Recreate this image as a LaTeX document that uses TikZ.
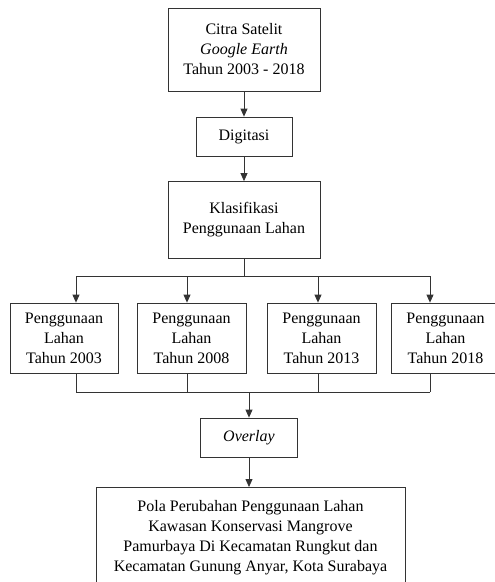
\documentclass[tikz,border=0pt]{standalone}
\usepackage{fontspec}
\setmainfont{Liberation Serif}
\usetikzlibrary{arrows.meta, calc}

\tikzset{
    kotak/.style={draw=black!80, line width=0.8pt, align=center, inner sep=0pt,
        font=\fontsize{16}{20}\selectfont},
    panah/.style={->, >={Triangle[length=8pt, width=7pt]}, line width=0.8pt, draw=black!80},
    garis/.style={line width=0.8pt, draw=black!80}
}

\begin{document}
\begin{tikzpicture}[x=1pt, y=-1pt]
    \clip (0,0) rectangle (495,582);

    % 1. Alur atas
    \node[kotak, minimum width=152pt, minimum height=83pt] (citra) at (244,49.5)
        {Citra Satelit\\\textit{Google Earth}\\Tahun 2003 - 2018};
    \node[kotak, minimum width=96pt, minimum height=39pt] (digitasi) at (244,136.5) {Digitasi};
    \node[kotak, minimum width=152pt, minimum height=77pt] (klas) at (244,220)
        {Klasifikasi\\Penggunaan Lahan};

    \draw[panah] (citra) -- (digitasi);
    \draw[panah] (digitasi) -- (klas);

    % 2. Penggunaan lahan tiap tahun
    \node[kotak, minimum width=108pt, minimum height=70pt] (p2003) at (64,338) {Penggunaan\\Lahan\\Tahun 2003};
    \node[kotak, minimum width=109pt, minimum height=70pt] (p2008) at (191.5,338) {Penggunaan\\Lahan\\Tahun 2008};
    \node[kotak, minimum width=109pt, minimum height=70pt] (p2013) at (321.5,338) {Penggunaan\\Lahan\\Tahun 2013};
    \node[kotak, minimum width=108pt, minimum height=70pt] (p2018) at (445.5,338) {Penggunaan\\Lahan\\Tahun 2018};

    \coordinate (cabang) at (244,276);
    \coordinate (gabung) at (249,392);

    \draw[garis] (klas) -- (cabang);
    \draw[garis] (cabang -| 76,0) -- (cabang -| 430,0);
    \draw[garis] (gabung -| 76,0) -- (gabung -| 430,0);
    \foreach \n/\x in {p2003/76, p2008/187, p2013/318, p2018/430} {
        \draw[panah] (cabang -| \x,0) -- (\n.north -| \x,0);
        \draw[garis] (\n.south -| \x,0) -- (gabung -| \x,0);
    }

    % 3. Overlay dan hasil
    \node[kotak, minimum width=97pt, minimum height=39pt] (overlay) at (249,437.5) {\textit{Overlay}};
    \node[kotak, minimum width=309pt, minimum height=100pt, anchor=north] (hasil) at (250.5,487)
        {Pola Perubahan Penggunaan Lahan\\Kawasan Konservasi Mangrove\\Pamurbaya Di Kecamatan Rungkut dan\\Kecamatan Gunung Anyar, Kota Surabaya};

    \draw[panah] (gabung) -- (overlay);
    \draw[panah] (overlay) -- (overlay |- hasil.north);

\end{tikzpicture}
\end{document}
